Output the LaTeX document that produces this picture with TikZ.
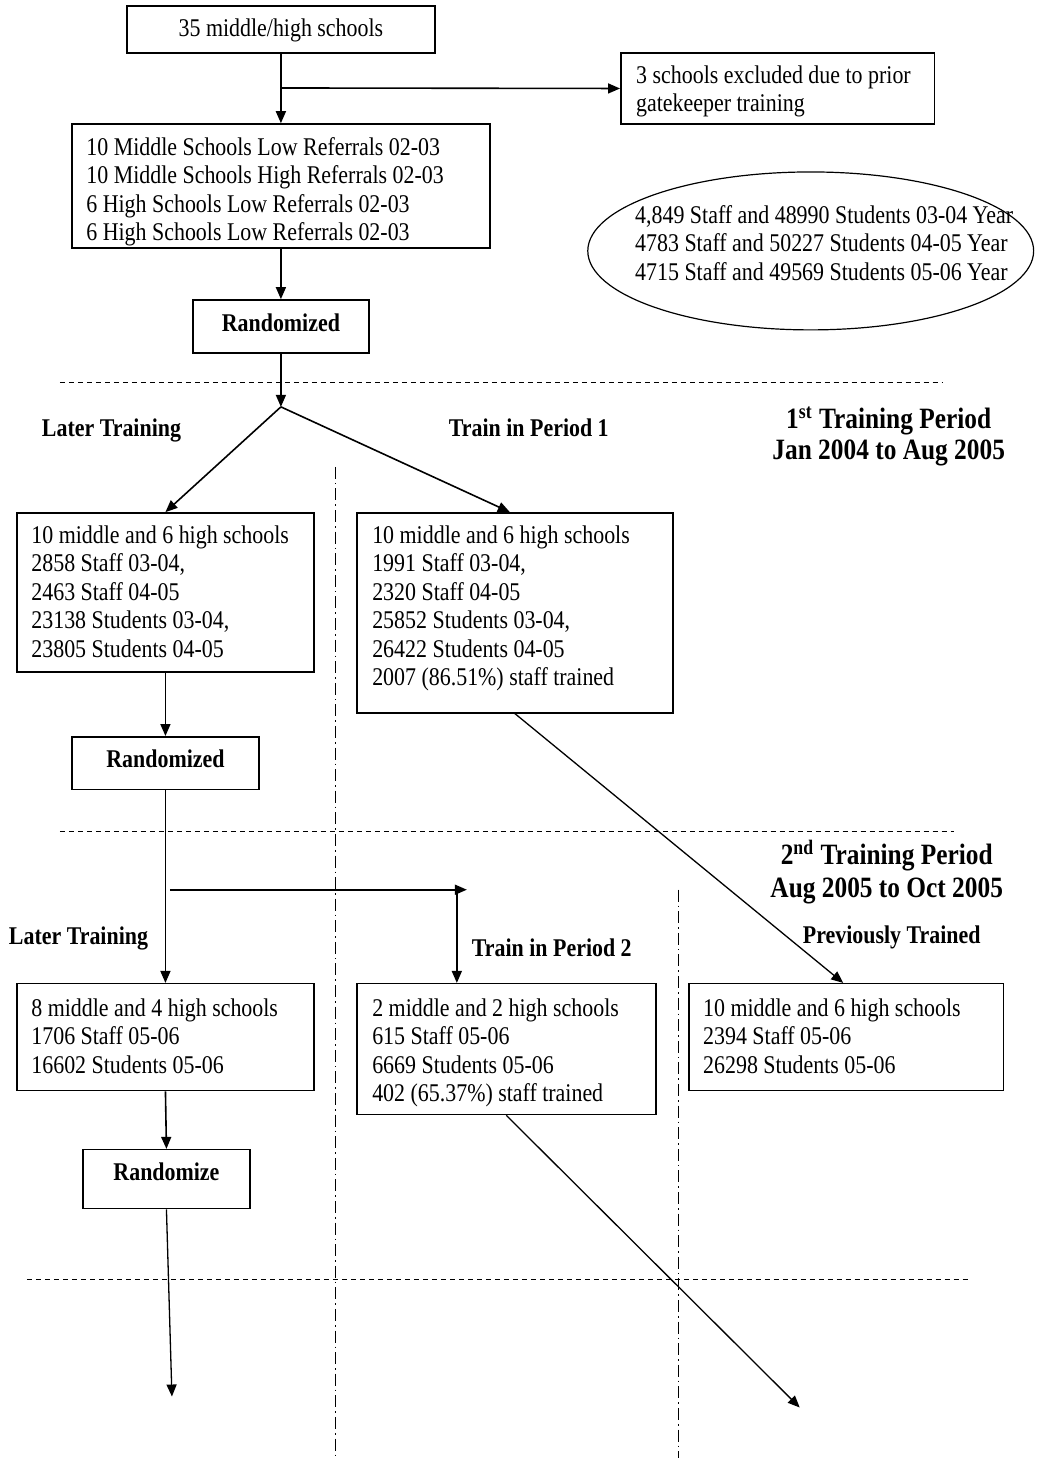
\documentclass[tikz,border=0pt]{standalone}
\usepackage{fontspec}
\setmainfont{Liberation Serif}[FakeStretch=0.86]
\usetikzlibrary{arrows.meta,shapes.geometric,fit,calc}

\begin{document}
\begin{tikzpicture}[x=0.5pt,y=-0.5pt,
  box/.style={draw, line width=0.75pt, inner sep=0pt},
  arr/.style={line width=0.8pt, -{Triangle[length=6pt,width=5pt]}},
  thinarr/.style={line width=0.65pt, -{Triangle[length=6pt,width=5pt]}},
  body/.style={anchor=north west, inner sep=0pt, align=left, yshift=9.975pt,
    font=\fontsize{12.75pt}{14.25pt}\selectfont},
  plain/.style={anchor=base, inner sep=0pt, font=\fontsize{12.75pt}{14.25pt}\selectfont},
  lab/.style={anchor=base, inner sep=0pt, font=\fontsize{12.75pt}{14.25pt}\selectfont\bfseries},
  big/.style={anchor=base, inner sep=0pt, font=\fontsize{14.75pt}{16pt}\selectfont\bfseries},
  sepline/.style={line width=0.6pt, dash pattern=on 2.5pt off 2pt},
  colline/.style={line width=0.5pt, dash pattern=on 6pt off 2pt on 0.8pt off 2pt}]

% page
\fill[white] (0,0) rectangle (1037,1458);

% ---------- enrolment ----------
\node[box, fit={(127,6) (435,53)}] (start) {};
\node[plain] (starttxt) at (281,37) {35 middle/high schools};

\node[box, fit={(621,53) (935,124)}] (excl) {};
\node[body] (excltxt) at (636,83) {\strut 3 schools excluded due to prior\\gatekeeper training};

\node[box, fit={(72,124) (490,248)}] (strata) {};
\node[body] (stratatxt) at (86,155) {\strut 10 Middle Schools Low Referrals 02-03\\
  10 Middle Schools High Referrals 02-03\\
  6 High Schools Low Referrals 02-03\\
  6 High Schools Low Referrals 02-03};

\node[draw, ellipse, line width=0.6pt, minimum width=223pt, minimum height=79pt,
  inner sep=0pt] (totals) at (811,251) {};
\node[body] (totalstxt) at (635,223) {\strut 4,849 Staff and 48990 Students 03-04 Year\\
  4783 Staff and 50227 Students 04-05 Year\\
  4715 Staff and 49569 Students 05-06 Year};

\node[box, fit={(193,300) (369,353)}] (rand1) {};
\node[lab] (rand1txt) at (281,332) {Randomized};

% ---------- period separators ----------
\draw[sepline] (60,383) -- (943,383);
\draw[sepline] (60,832) -- (954,832);
\draw[sepline] (27,1280) -- (970,1280);
\draw[colline] (336,467) -- (336,1458);
\draw[colline] (679,890) -- (679,1458);

% ---------- first training period ----------
\coordinate (fork) at (281,407);
\node[lab] (later1) at (111.5,437) {Later Training};
\node[lab] (train1) at (529,437) {Train in Period 1};
\node[big] (per1a) at (889,429) {1\textsuperscript{st} Training Period};
\node[big] (per1b) at (889,460) {Jan 2004 to Aug 2005};

\node[box, fit={(17,513) (314,672)}] (lb1) {};
\node[body] (lb1txt) at (31,543) {\strut 10 middle and 6 high schools\\
  2858 Staff 03-04,\\
  2463 Staff 04-05\\
  23138 Students 03-04,\\
  23805 Students 04-05};

\node[box, fit={(357,513) (673,713)}] (rb1) {};
\node[body] (rb1txt) at (372,543) {\strut 10 middle and 6 high schools\\
  1991 Staff 03-04,\\
  2320 Staff 04-05\\
  25852 Students 03-04,\\
  26422 Students 04-05\\
  2007 (86.51\%) staff trained};

\node[box, fit={(72,737) (259,790)}] (rand2) {};
\node[lab] (rand2txt) at (165.5,768) {Randomized};

% ---------- second training period ----------
\node[big] (per2a) at (887,865) {2\textsuperscript{nd} Training Period};
\node[big] (per2b) at (887,898) {Aug 2005 to Oct 2005};
\node[lab] (later2) at (78.5,945) {Later Training};
\node[lab] (train2) at (552,957) {Train in Period 2};
\node[lab] (prev) at (892,944) {Previously Trained};

\node[box, fit={(17,984) (314,1091)}] (lb3) {};
\node[body] (lb3txt) at (31,1016) {\strut 8 middle and 4 high schools\\
  1706 Staff 05-06\\
  16602 Students 05-06};

\node[box, fit={(357,984) (656,1115)}] (mb3) {};
\node[body] (mb3txt) at (372,1016) {\strut 2 middle and 2 high schools\\
  615 Staff 05-06\\
  6669 Students 05-06\\
  402 (65.37\%) staff trained};

\node[box, fit={(689,984) (1004,1091)}] (rb3) {};
\node[body] (rb3txt) at (703,1016) {\strut 10 middle and 6 high schools\\
  2394 Staff 05-06\\
  26298 Students 05-06};

\node[box, fit={(83,1150) (250,1209)}] (rand3) {};
\node[lab] (rand3txt) at (166.5,1181) {Randomize};

% ---------- connectors ----------
\coordinate (j1) at (281,88);
\draw[arr] (start.south) -- (strata.north);
\draw[arr] (j1) -- (excl.west);
\draw[arr] (strata.south) -- (rand1.north);
\draw[arr] (rand1.south) -- (fork);
\draw[arr] (fork) -- (lb1.north);
\draw[arr] (fork) -- ($(rb1.north)+(-5,0)$);
\draw[arr] (lb1.south) -- (rand2.north);
\draw[arr] (rand2.south) -- (lb3.north);

\coordinate (j2) at (170,890);
\coordinate (j2end) at (467,890);
\coordinate (j3) at (457,890);
\draw[arr] (j2) -- (j2end);
\draw[arr] (j3) -- (j3 |- mb3.north);

\draw[thinarr] (rb1.south) -- ($(rb3.north)+(-3,0)$);
\draw[arr] (lb3.south) -- (rand3.north);

\coordinate (out1) at (172,1397);
\coordinate (out2) at (800,1408);
\draw[thinarr] (rand3.south) -- (out1);
\draw[thinarr] (mb3.south) -- (out2);
\end{tikzpicture}
\end{document}
